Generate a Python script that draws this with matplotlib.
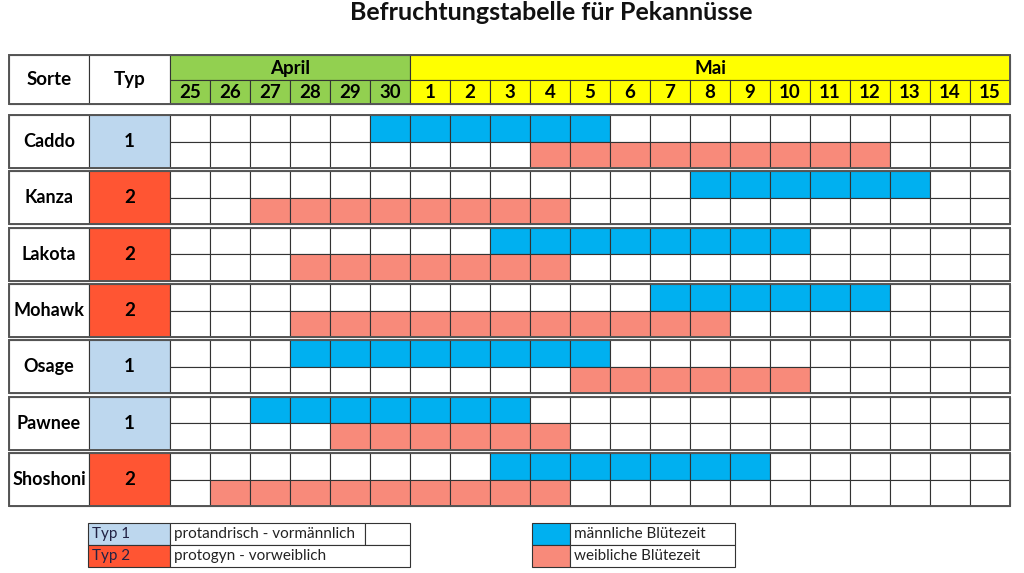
import matplotlib
matplotlib.use("Agg")
import matplotlib.pyplot as plt
from matplotlib.patches import Rectangle

plt.rcParams['font.family'] = ['Lato', 'DejaVu Sans']

title = "Befruchtungstabelle für Pekannüsse"
april_days = [25, 26, 27, 28, 29, 30]
may_days = list(range(1, 16))
varieties = ["Caddo", "Kanza", "Lakota", "Mohawk", "Osage", "Pawnee", "Shoshoni"]
types = [1, 2, 2, 2, 1, 1, 2]
# flowering periods as (first day index, last day index), index 0 = 25 April, 6 = 1 May
male = [(5, 10), (13, 18), (8, 15), (12, 17), (3, 10), (2, 8), (8, 14)]
female = [(9, 17), (2, 9), (3, 9), (3, 13), (10, 15), (4, 9), (1, 9)]
legend_types = [("Typ 1", "protandrisch - vormännlich"), ("Typ 2", "protogyn - vorweiblich")]
legend_flowers = ["männliche Blütezeit", "weibliche Blütezeit"]

C_BLUE = "#00B0F0"
C_SALMON = "#F88A7A"
C_TYP = {1: "#BDD7EE", 2: "#FF5533"}
C_GREEN = "#92D050"
C_YELLOW = "#FFFF00"
EDGE = "#333333"

W, H = 1024, 573
fig = plt.figure(figsize=(W / 100, H / 100), dpi=100)
ax = fig.add_axes([0, 0, 1, 1])
ax.set_xlim(0, W)
ax.set_ylim(H, 0)
ax.axis("off")

def rect(x, y, w, h, fc="white", ec=EDGE, lw=0.8, z=1):
    ax.add_patch(Rectangle((x, y), w, h, facecolor=fc, edgecolor=ec, linewidth=lw, zorder=z))

X0, XT, XD = 9, 89, 170
CW = 40.0
ndays = len(april_days) + len(may_days)
XE = XD + ndays * CW

ax.text(551, 13, title, ha="center", va="center", fontsize=18, fontweight="bold", color="#111111")

FS = 13.5
# header
HY0, HY1, HY2 = 55, 80, 104
rect(X0, HY0, XT - X0, HY2 - HY0)
rect(XT, HY0, XD - XT, HY2 - HY0)
ax.text((X0 + XT) / 2, (HY0 + HY2) / 2, "Sorte", ha="center", va="center", fontsize=FS, fontweight="bold")
ax.text((XT + XD) / 2, (HY0 + HY2) / 2, "Typ", ha="center", va="center", fontsize=FS, fontweight="bold")
na = len(april_days)
rect(XD, HY0, na * CW, HY1 - HY0, fc=C_GREEN)
ax.text(XD + na * CW / 2, (HY0 + HY1) / 2 + 1, "April", ha="center", va="center", fontsize=FS, fontweight="bold")
rect(XD + na * CW, HY0, len(may_days) * CW, HY1 - HY0, fc=C_YELLOW)
ax.text(XD + na * CW + len(may_days) * CW / 2, (HY0 + HY1) / 2 + 1, "Mai", ha="center", va="center", fontsize=FS, fontweight="bold")
for i, d in enumerate(april_days + may_days):
    rect(XD + i * CW, HY1, CW, HY2 - HY1, fc=C_GREEN if i < na else C_YELLOW)
    ax.text(XD + i * CW + CW / 2, (HY1 + HY2) / 2 + 1, str(d), ha="center", va="center", fontsize=FS, fontweight="bold")
rect(X0, HY0, XE - X0, HY2 - HY0, fc="none", ec="#555555", lw=1.4, z=3)

# variety blocks
BY0, PITCH, BH = 115, 56.35, 53
for r, name in enumerate(varieties):
    y = BY0 + r * PITCH
    rect(X0, y, XT - X0, BH)
    ax.text((X0 + XT) / 2, y + BH / 2, name, ha="center", va="center", fontsize=13, fontweight="bold")
    rect(XT, y, XD - XT, BH, fc=C_TYP[types[r]])
    ax.text((XT + XD) / 2, y + BH / 2, str(types[r]), ha="center", va="center", fontsize=FS, fontweight="bold")
    for sub, (period, col) in enumerate([(male[r], C_BLUE), (female[r], C_SALMON)]):
        yy = y + sub * BH / 2
        for i in range(ndays):
            fc = col if period[0] <= i <= period[1] else "white"
            rect(XD + i * CW, yy, CW, BH / 2, fc=fc)
    rect(X0, y, XE - X0, BH, fc="none", ec="#555555", lw=1.4, z=3)

# legend
LY0, LH = 523, 22
LFS = 11
for k, (lab, desc) in enumerate(legend_types):
    y = LY0 + k * LH
    rect(88, y, 82, LH, fc=C_TYP[k + 1])
    ax.text(92, y + LH / 2, lab, ha="left", va="center", fontsize=LFS, color="#222244")
    if k == 0:
        rect(170, y, 195, LH)
        rect(365, y, 45, LH)
    else:
        rect(170, y, 240, LH)
    ax.text(174, y + LH / 2, desc, ha="left", va="center", fontsize=LFS, color="#222222")
for k, desc in enumerate(legend_flowers):
    y = LY0 + k * LH
    rect(532, y, 38, LH, fc=[C_BLUE, C_SALMON][k])
    rect(570, y, 165, LH)
    ax.text(574, y + LH / 2, desc, ha="left", va="center", fontsize=LFS, color="#222222")

fig.savefig("out.png", dpi=100)
